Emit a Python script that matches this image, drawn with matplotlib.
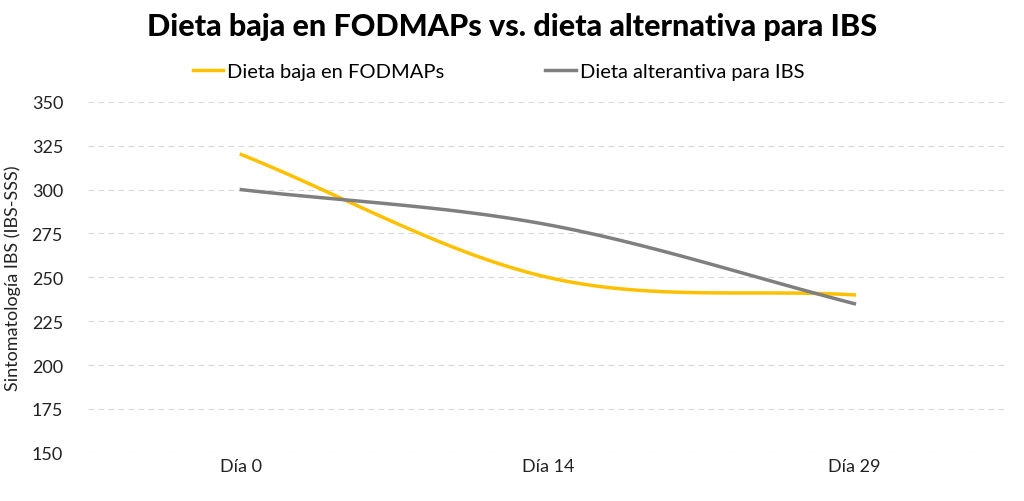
import matplotlib
matplotlib.use('Agg')
import matplotlib.pyplot as plt
import numpy as np

plt.rcParams['font.family'] = ['Lato', 'DejaVu Sans']

categories = ['Día 0', 'Día 14', 'Día 29']
fodmap = [320, 250, 240]
alternativa = [300, 280, 235]


def smooth(ys, n=60):
    # Catmull-Rom style smoothing between category points (like Excel smoothed lines)
    xs = np.arange(len(ys), dtype=float)
    ys = np.asarray(ys, dtype=float)
    px = np.concatenate([[2 * xs[0] - xs[1]], xs, [2 * xs[-1] - xs[-2]]])
    py = np.concatenate([[2 * ys[0] - ys[1]], ys, [2 * ys[-1] - ys[-2]]])
    outx, outy = [], []
    for i in range(1, len(px) - 2):
        t = np.linspace(0, 1, n)
        for p, out in ((px, outx), (py, outy)):
            p0, p1, p2, p3 = p[i - 1], p[i], p[i + 1], p[i + 2]
            c1 = p1 + (p2 - p0) / 6
            c2 = p2 - (p3 - p1) / 6
            out.extend((1 - t) ** 3 * p1 + 3 * (1 - t) ** 2 * t * c1
                       + 3 * (1 - t) * t ** 2 * c2 + t ** 3 * p2)
    return outx, outy


fig = plt.figure(figsize=(10.24, 5.02), dpi=100)
ax = fig.add_axes([0.086, 0.096, 0.898, 0.699])

ax.plot(*smooth(fodmap), color='#FFC000', linewidth=2.5, label='Dieta baja en FODMAPs')
ax.plot(*smooth(alternativa), color='#7F7F7F', linewidth=2.5, label='Dieta alterantiva para IBS')

ax.set_xlim(-0.5, 2.5)
ax.set_ylim(150, 350)
ax.set_yticks(range(150, 351, 25))
ax.set_xticks(range(len(categories)))
ax.set_xticklabels(categories)
ax.tick_params(length=0, labelsize=13, colors='#222222')
ax.tick_params(axis='y', pad=18)
ax.grid(axis='y', color='#D9D9D9', linestyle=(0, (5, 4)), linewidth=0.8)
ax.set_axisbelow(True)
for s in ax.spines.values():
    s.set_visible(False)
ax.set_ylabel('Sintomatología IBS (IBS-SSS)', fontsize=13, color='#222222', labelpad=8)

fig.suptitle('Dieta baja en FODMAPs vs. dieta alternativa para IBS',
             x=0.5, y=0.975, fontsize=22, fontweight='black')
fig.legend(loc='center', bbox_to_anchor=(0.487, 0.855), ncol=2, frameon=False,
           fontsize=14.5, handlelength=1.5, columnspacing=5, handletextpad=0.2)

fig.savefig('out.png', dpi=100)
